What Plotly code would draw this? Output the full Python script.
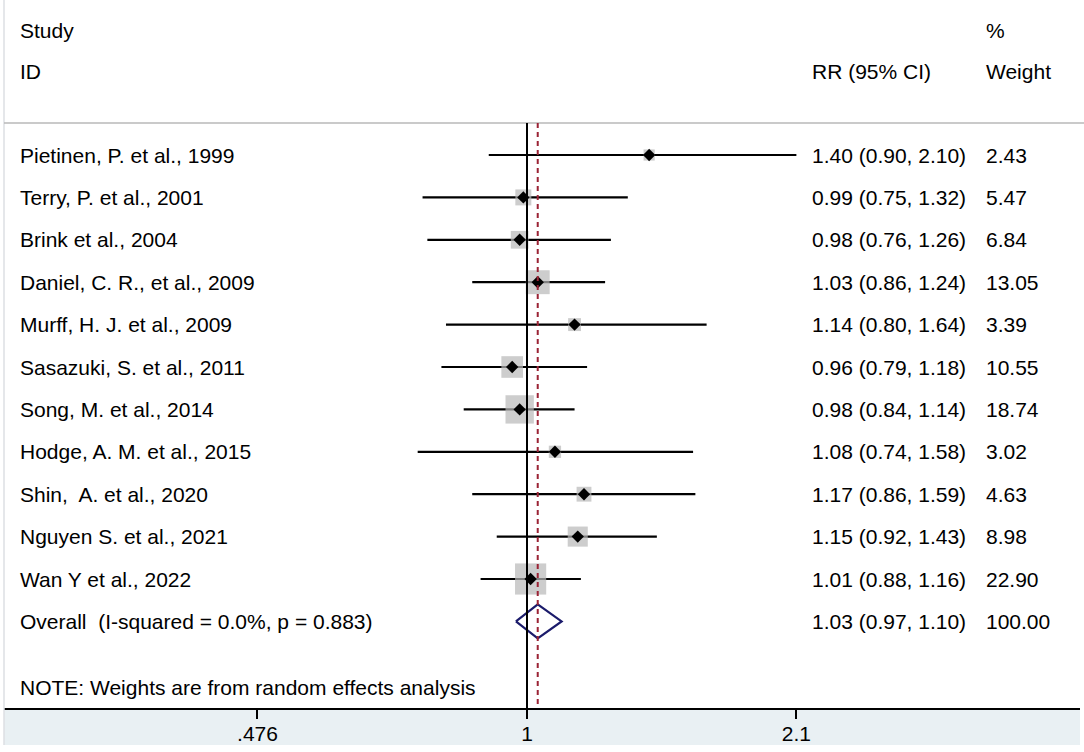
import plotly.graph_objects as go

# study-level data
studies = ["Pietinen, P. et al., 1999", "Terry, P. et al., 2001", "Brink et al., 2004",
           "Daniel, C. R., et al., 2009", "Murff, H. J. et al., 2009", "Sasazuki, S. et al., 2011",
           "Song, M. et al., 2014", "Hodge, A. M. et al., 2015", "Shin,\u00a0 A. et al., 2020",
           "Nguyen S. et al., 2021", "Wan Y et al., 2022"]
rr = [1.40, 0.99, 0.98, 1.03, 1.14, 0.96, 0.98, 1.08, 1.17, 1.15, 1.01]
ci_low = [0.90, 0.75, 0.76, 0.86, 0.80, 0.79, 0.84, 0.74, 0.86, 0.92, 0.88]
ci_high = [2.10, 1.32, 1.26, 1.24, 1.64, 1.18, 1.14, 1.58, 1.59, 1.43, 1.16]
weights = [2.43, 5.47, 6.84, 13.05, 3.39, 10.55, 18.74, 3.02, 4.63, 8.98, 22.90]

overall_label = "Overall\u00a0 (I-squared = 0.0%, p = 0.883)"
overall_rr, overall_low, overall_high = 1.03, 0.97, 1.10
note = "NOTE: Weights are from random effects analysis"
tick_vals = [0.476, 1, 2.1]
tick_text = [".476", "1", "2.1"]

FONT = "Liberation Sans, Arial, sans-serif"
FS = 21
H, W = 752, 1084
AXIS_PX = 708          # pixel row of the x axis line
ROW_PX, STEP = 155, 42.4


def row(px):
    # pixel height -> row units
    return (px - ROW_PX) / STEP


rows = list(range(len(studies)))
overall_row = len(studies)

fig = go.Figure()

# CI lines
for i in rows:
    fig.add_trace(go.Scatter(x=[ci_low[i], ci_high[i]], y=[i, i], mode="lines",
                             line=dict(color="black", width=2.2), hoverinfo="skip", showlegend=False))

# weight boxes
fig.add_trace(go.Scatter(x=rr, y=rows, mode="markers",
                         marker=dict(symbol="square", color="#b8b8b8",
                                     size=[6.2 * w ** 0.5 + 1.5 for w in weights], line=dict(width=0)),
                         showlegend=False))
# point estimates
fig.add_trace(go.Scatter(x=rr, y=rows, mode="markers",
                         marker=dict(symbol="diamond", color="black", size=9.5, line=dict(width=0)),
                         showlegend=False))

# overall diamond
dh = 0.4
fig.add_trace(go.Scatter(x=[overall_low, overall_rr, overall_high, overall_rr, overall_low],
                         y=[overall_row, overall_row - dh, overall_row, overall_row + dh, overall_row],
                         mode="lines", line=dict(color="#1b1b6b", width=2.2),
                         hoverinfo="skip", showlegend=False))

y_top, y_bot = row(0), row(AXIS_PX)
line_top = row(123)

shapes = [
    # bottom band under the axis
    dict(type="rect", xref="paper", yref="paper", x0=0, x1=1, y0=-37 / AXIS_PX, y1=0,
         fillcolor="#e9f0f3", line=dict(width=0), layer="below"),
    # left border
    dict(type="line", xref="paper", yref="paper", x0=0, x1=0, y0=-37 / AXIS_PX, y1=1,
         line=dict(color="#dcdfe3", width=1.5)),
    # header separator
    dict(type="line", xref="paper", yref="y", x0=0, x1=1.01, y0=line_top, y1=line_top,
         line=dict(color="#b9b9b9", width=1.5)),
    # null line
    dict(type="line", xref="x", yref="y", x0=1, x1=1, y0=line_top, y1=y_bot,
         line=dict(color="black", width=2)),
    # overall estimate line
    dict(type="line", xref="x", yref="y", x0=overall_rr, x1=overall_rr, y0=line_top, y1=y_bot,
         line=dict(color="#9b2335", width=2, dash="5px,4px")),
]

annotations = []


def txt(x, y, s):
    annotations.append(dict(xref="paper", yref="y", x=x, y=y, text=s, showarrow=False,
                            xanchor="left", yanchor="middle",
                            font=dict(family=FONT, size=FS, color="black")))


X_NAME = (18 - 4) / 1076
X_RR = (810 - 4) / 1076
X_W = (984 - 4) / 1076

txt(X_NAME, row(30), "Study")
txt(X_NAME, row(71), "ID")
txt(X_RR, row(71), "RR (95% CI)")
txt(X_W, row(30), "%")
txt(X_W, row(71), "Weight")

for i in rows:
    txt(X_NAME, i, studies[i])
    txt(X_RR, i, f"{rr[i]:.2f} ({ci_low[i]:.2f}, {ci_high[i]:.2f})")
    txt(X_W, i, f"{weights[i]:.2f}")

txt(X_NAME, overall_row, overall_label)
txt(X_RR, overall_row, f"{overall_rr:.2f} ({overall_low:.2f}, {overall_high:.2f})")
txt(X_W, overall_row, "100.00")
txt(X_NAME, row(687), note)

PX_PER_DEC = 836
fig.update_layout(
    width=W, height=H,
    margin=dict(l=4, r=4, t=0, b=H - AXIS_PX),
    paper_bgcolor="white", plot_bgcolor="white",
    xaxis=dict(type="log", range=[(4 - 527) / PX_PER_DEC, (1080 - 527) / PX_PER_DEC],
               tickvals=tick_vals, ticktext=tick_text, ticks="outside", ticklen=9,
               tickwidth=2, tickcolor="black", showline=True, linecolor="black", linewidth=2,
               showgrid=False, zeroline=False, ticklabelstandoff=-3,
               tickfont=dict(family=FONT, size=FS, color="black")),
    yaxis=dict(range=[y_bot, y_top], showticklabels=False, showgrid=False, zeroline=False,
               showline=False),
    shapes=shapes,
    annotations=annotations,
    showlegend=False,
)

fig.write_html("out.html", config={"displayModeBar": False},
               post_script="document.body.style.margin='0';document.body.style.overflow='hidden';")
